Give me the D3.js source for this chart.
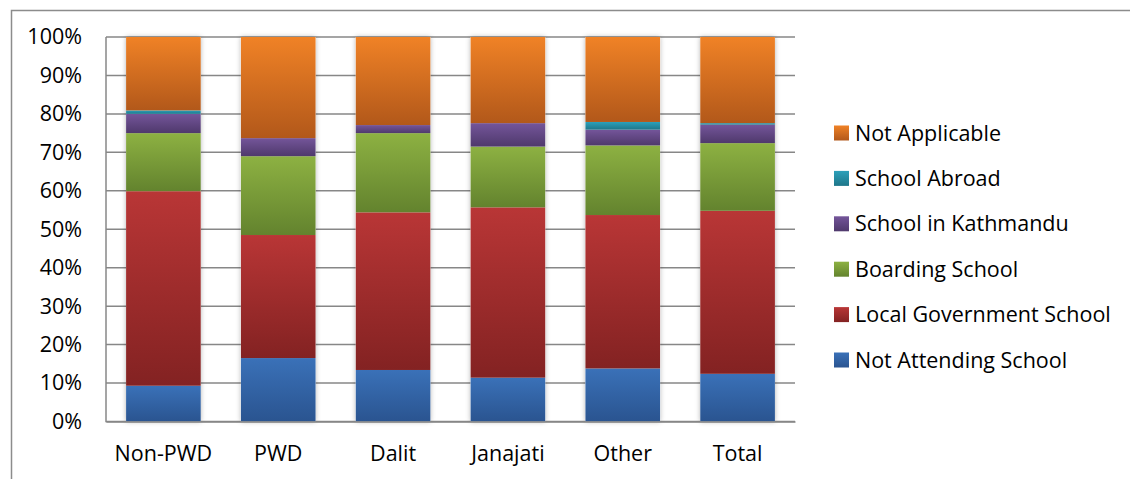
<!DOCTYPE html>
<html>
<head>
<meta charset="utf-8">
<script src="https://cdn.jsdelivr.net/npm/d3@7"></script>
<style>
  body { margin: 0; background: #fff; }
  text { font-family: "Open Sans", sans-serif; fill: #000; }
</style>
</head>
<body>
<svg width="1130" height="479"></svg>
<script>
// categories and series (shares, %)
var categories = ['Non-PWD', 'PWD', 'Dalit', 'Janajati', 'Other', 'Total'];
var seriesNames = ['Not Attending School', 'Local Government School', 'Boarding School',
    'School in Kathmandu', 'School Abroad', 'Not Applicable'];

var notAttending = [9.3, 16.5, 13.4, 11.4, 13.8, 12.4];
var localGov     = [50.6, 32.0, 41.0, 44.3, 39.9, 42.4];
var boarding     = [15.1, 20.5, 20.6, 15.8, 18.1, 17.6];
var kathmandu    = [5.0, 4.7, 2.1, 6.1, 4.1, 4.8];
var abroad       = [0.9, 0.0, 0.0, 0.0, 2.0, 0.4];
var notApplic    = [19.1, 26.3, 22.9, 22.4, 22.1, 22.4];

var yTicks = [0, 10, 20, 30, 40, 50, 60, 70, 80, 90, 100];

// gradient colours, top -> bottom
var colours = [
    ['#3a71b8', '#2a5490'],
    ['#b93636', '#832222'],
    ['#8db142', '#63832e'],
    ['#74559a', '#4f396c'],
    ['#2ca0ba', '#1e7689'],
    ['#f08226', '#b2581a']
];

var rows = categories.map(function(c, i) {
    return {
        cat: c,
        s0: notAttending[i], s1: localGov[i], s2: boarding[i],
        s3: kathmandu[i], s4: abroad[i], s5: notApplic[i]
    };
});
var keys = ['s0', 's1', 's2', 's3', 's4', 's5'];

var svg = d3.select('svg');

// outer frame
svg.append('path')
    .attr('d', 'M11.5,479 V10.5 H1130')
    .attr('fill', 'none')
    .attr('stroke', '#8c8c8c')
    .attr('stroke-width', 1.5);

var margin = {left: 106, right: 795, top: 37, bottom: 421.5};
var fontSize = 21.5;

var x = d3.scaleBand()
    .domain(categories)
    .range([margin.left, margin.right])
    .paddingInner(0.35)
    .paddingOuter(0.175);

var y = d3.scaleLinear()
    .domain([0, 100])
    .range([margin.bottom, margin.top]);

var defs = svg.append('defs');
colours.forEach(function(c, i) {
    var g = defs.append('linearGradient')
        .attr('id', 'grad' + i)
        .attr('x1', 0).attr('y1', 0).attr('x2', 0).attr('y2', 1);
    g.append('stop').attr('offset', '0%').attr('stop-color', c[0]);
    g.append('stop').attr('offset', '100%').attr('stop-color', c[1]);
});
var f = defs.append('filter').attr('id', 'shadow')
    .attr('x', '-20%').attr('y', '-5%').attr('width', '140%').attr('height', '110%');
f.append('feDropShadow')
    .attr('dx', 0).attr('dy', 0).attr('stdDeviation', 2.5)
    .attr('flood-color', '#000').attr('flood-opacity', 0.3);

// gridlines
svg.append('g')
    .selectAll('line')
    .data(yTicks)
    .enter()
    .append('line')
    .attr('x1', margin.left)
    .attr('x2', margin.right)
    .attr('y1', function(d) { return y(d); })
    .attr('y2', function(d) { return y(d); })
    .attr('stroke', '#878787')
    .attr('stroke-width', 1.5);

// y axis line
svg.append('line')
    .attr('x1', margin.left).attr('x2', margin.left)
    .attr('y1', y(100)).attr('y2', y(0) + 0.75)
    .attr('stroke', '#878787')
    .attr('stroke-width', 1.5);

// bars
var stack = d3.stack().keys(keys);
var layers = stack(rows);

var barGroup = svg.append('g');

// shadow under each full column
barGroup.selectAll('rect.shadow')
    .data(rows)
    .enter()
    .append('rect')
    .attr('class', 'shadow')
    .attr('x', function(d) { return x(d.cat); })
    .attr('y', y(100))
    .attr('width', x.bandwidth())
    .attr('height', y(0) - y(100))
    .attr('fill', '#fff')
    .attr('filter', 'url(#shadow)');

layers.forEach(function(layer, i) {
    barGroup.append('g')
        .selectAll('rect')
        .data(layer)
        .enter()
        .append('rect')
        .attr('x', function(d) { return x(d.data.cat); })
        .attr('y', function(d) { return y(d[1]); })
        .attr('width', x.bandwidth())
        .attr('height', function(d) { return y(d[0]) - y(d[1]); })
        .attr('fill', 'url(#grad' + i + ')');
});

// y axis labels
var yAxis = d3.axisLeft(y)
    .tickValues(yTicks)
    .tickSize(0)
    .tickPadding(24)
    .tickFormat(function(d) { return d + '%'; });

svg.append('g')
    .attr('transform', 'translate(' + margin.left + ',0)')
    .call(yAxis)
    .call(function(g) { g.select('.domain').remove(); })
    .selectAll('text')
    .attr('font-family', '"Open Sans", sans-serif')
    .attr('font-size', fontSize)
    .attr('fill', '#000');

// x axis labels
var xAxis = d3.axisBottom(x).tickSize(0).tickPadding(24.5);
svg.append('g')
    .attr('transform', 'translate(0,' + margin.bottom + ')')
    .call(xAxis)
    .call(function(g) {
        g.select('.domain')
            .attr('stroke', '#878787')
            .attr('stroke-width', 1.5);
    })
    .selectAll('text')
    .attr('font-family', '"Open Sans", sans-serif')
    .attr('font-size', fontSize)
    .attr('fill', '#000');

// legend, top item first
var legendY = d3.scalePoint()
    .domain(seriesNames.slice().reverse())
    .range([133, 360]);

var legend = svg.append('g')
    .selectAll('g')
    .data(seriesNames)
    .enter()
    .append('g')
    .attr('transform', function(d) { return 'translate(834,' + legendY(d) + ')'; });

legend.append('rect')
    .attr('x', 0)
    .attr('y', -7.5)
    .attr('width', 15)
    .attr('height', 15)
    .attr('fill', function(d, i) { return 'url(#grad' + i + ')'; });

legend.append('text')
    .attr('x', 21)
    .attr('dy', '0.35em')
    .attr('font-size', fontSize)
    .text(function(d) { return d; });
</script>
</body>
</html>
